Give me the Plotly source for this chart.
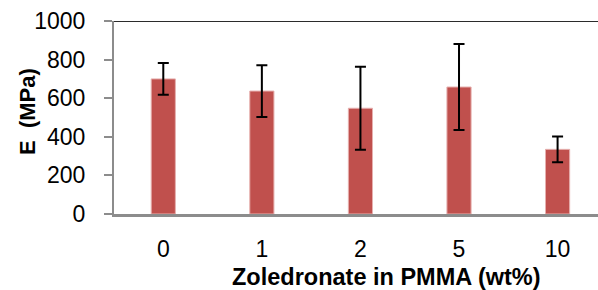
import plotly.graph_objects as go

categories = ["0", "1", "2", "5", "10"]
modulus = [700, 637, 548, 658, 335]
errors = [82, 134, 215, 223, 67]

fig = go.Figure()
fig.add_trace(go.Bar(
    x=categories, y=modulus,
    marker=dict(color="#C0504D", line=dict(color="#E6B0AF", width=1)),
    width=0.245,
    error_y=dict(type="data", array=errors, visible=True, color="black", thickness=2, width=5.5),
))

fig.update_layout(
    width=598, height=290,
    margin=dict(l=114, r=0, t=21, b=76, autoexpand=False),
    paper_bgcolor="white", plot_bgcolor="white",
    showlegend=False,
    font=dict(family="Liberation Sans", size=23, color="black"),
    xaxis=dict(
        range=[-0.5, 4.41], showline=True, linecolor="#8C8C8C", linewidth=3,
        ticks="outside", ticklen=12, tickcolor="rgba(0,0,0,0)",
        tickfont=dict(size=23), showgrid=False, zeroline=False, automargin=False,
    ),
    yaxis=dict(
        range=[0, 1000], dtick=200, showline=True, linecolor="#8C8C8C", linewidth=2,
        ticks="outside", ticklen=8, tickcolor="#8C8C8C", tickwidth=2,
        ticklabelstandoff=14,
        tickfont=dict(size=23), showgrid=False, zeroline=False, automargin=False,
    ),
    shapes=[dict(type="line", xref="paper", yref="y", x0=0, x1=1, y0=1000, y1=1000,
                 line=dict(color="#2B2B2B", width=2))],
    annotations=[
        dict(text="<b>Zoledronate in PMMA (wt%)</b>", xref="paper", yref="paper",
             x=(386 - 114) / 484, y=-(277 - 214) / 193, showarrow=False,
             xanchor="center", yanchor="middle", font=dict(size=23.5)),
        dict(text="<b>E&nbsp;&nbsp;(MPa)</b>", xref="paper", yref="paper",
             x=-(114 - 27) / 484, y=(214 - 112) / 193, showarrow=False, textangle=-90,
             xanchor="center", yanchor="middle", font=dict(size=22)),
    ],
)

fig.write_html("out.html", post_script="document.body.style.margin='0';",
               config={"displayModeBar": False})
